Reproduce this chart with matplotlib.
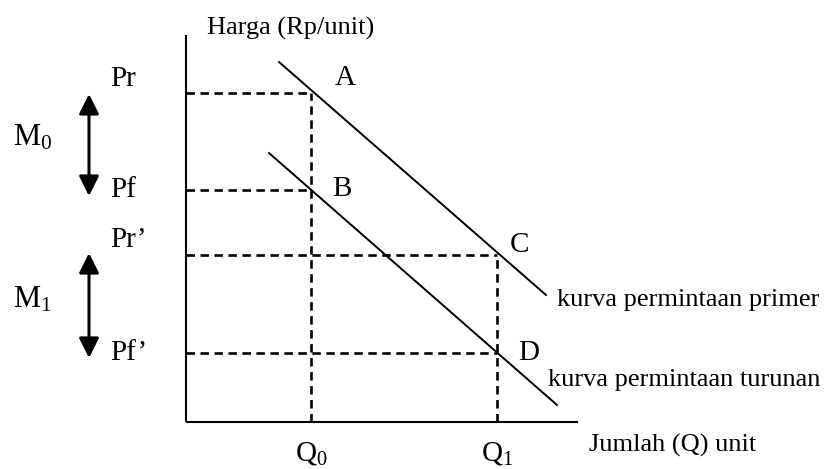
import matplotlib.pyplot as plt

plt.rcParams['font.family'] = ['Liberation Serif', 'DejaVu Serif']
plt.rcParams['mathtext.fontset'] = 'custom'
plt.rcParams['mathtext.rm'] = 'Liberation Serif'
plt.rcParams['mathtext.it'] = 'Liberation Serif'

# quantity / price levels (origin at axis corner)
q_levels = [125, 311]            # Q0, Q1
q_labels = [r'$\mathrm{Q}_0$', r'$\mathrm{Q}_1$']
p_levels = [329, 232, 167, 69]   # Pr, Pf, Pr', Pf'
p_labels = ['Pr', 'Pf', 'Pr\u2019', 'Pf\u2019']
p_reach = [125, 125, 311, 311]   # where each dashed price line stops

# demand curves (two end points each)
primer_q = [93, 360]
primer_p = [360, 127]
turunan_q = [83, 371]
turunan_p = [269, 17]

# points on the curves
pt_names = ['A', 'B', 'C', 'D']
pt_q = [149, 146, 324, 332]
pt_p = [344, 233, 177, 69]

x_max = 392
y_max = 387

fig = plt.figure(figsize=(8.26, 4.69), dpi=100)
ax = fig.add_axes([0, 0, 1, 1])
ax.set_xlim(-186, 640)
ax.set_ylim(-47, 422)
ax.axis('off')

# axes
ax.plot([0, 0], [0, y_max], color='black', lw=1.5, solid_capstyle='butt')
ax.plot([0, x_max], [0, 0], color='black', lw=1.5, solid_capstyle='butt')

dash = dict(color='black', lw=1.9, dashes=(3.2, 2.1))
for p, reach in zip(p_levels, p_reach):
    ax.plot([0, reach], [p, p], **dash)
ax.plot([q_levels[0], q_levels[0]], [0, p_levels[0]], **dash)
ax.plot([q_levels[1], q_levels[1]], [0, p_levels[2]], **dash)

ax.plot(primer_q, primer_p, color='black', lw=1.4)
ax.plot(turunan_q, turunan_p, color='black', lw=1.4)

fs = 19
big = 21
for lab, p in zip(p_labels, [343, 232, 182, 69]):
    ax.text(-76, p, lab, fontsize=big, ha='left', va='center')
for n, q, p in zip(pt_names, pt_q, pt_p):
    ax.text(q, p, n, fontsize=big, ha='left', va='center')
for lab, q in zip(q_labels, q_levels):
    ax.text(q, -31, lab, fontsize=big, ha='center', va='center')

ax.text(21, 394, 'Harga (Rp/unit)', fontsize=fs, ha='left', va='center')
ax.text(403, -23, 'Jumlah (Q) unit', fontsize=fs, ha='left', va='center')
ax.text(371, 122, 'kurva permintaan primer', fontsize=fs, ha='left', va='center')
ax.text(362, 42, 'kurva permintaan turunan', fontsize=fs, ha='left', va='center')

# margin arrows
arrow = dict(arrowstyle='<|-|>,head_length=1.2,head_width=0.6', color='black',
             lw=2.2, shrinkA=0, shrinkB=0)
ax.annotate('', xy=(-97, 328), xytext=(-97, 226), arrowprops=arrow)
ax.annotate('', xy=(-97, 169), xytext=(-97, 64), arrowprops=arrow)
ax.text(-173, 284, r'$\mathrm{M}_0$', fontsize=22, ha='left', va='center')
ax.text(-173, 122, r'$\mathrm{M}_1$', fontsize=22, ha='left', va='center')

fig.savefig('out.png', dpi=100, facecolor='white')
